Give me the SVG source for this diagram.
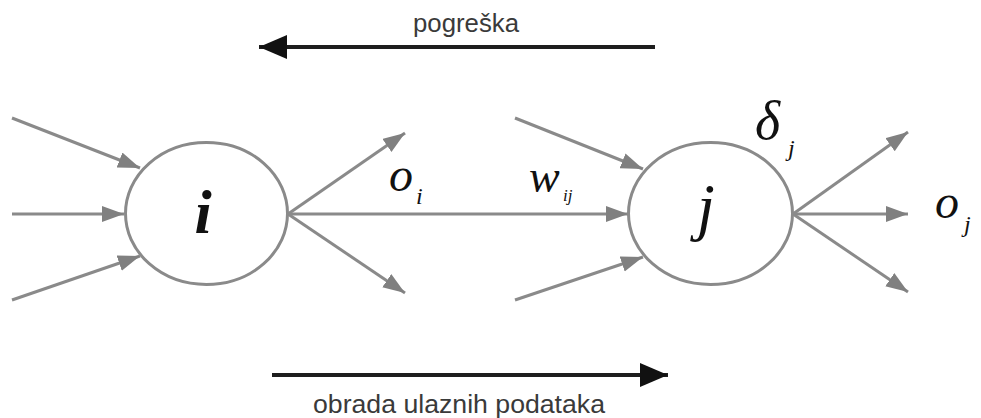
<svg xmlns="http://www.w3.org/2000/svg" width="981" height="418" viewBox="0 0 981 418">
<style>
.c{stroke:#8a8a8a;stroke-width:3;fill:none}
.node{fill:#fff;stroke:#8a8a8a;stroke-width:3}
.bk{stroke:#1e1e1e;stroke-width:4;fill:none}
.lab{font-family:"Liberation Sans",Arial,sans-serif;font-size:25px;fill:#3a3a3a}
.m{font-family:"Liberation Serif","Times New Roman",serif;font-style:italic;fill:#111}
</style>
<defs>
<marker id="g" markerUnits="userSpaceOnUse" markerWidth="24" markerHeight="18" refX="22" refY="8" orient="auto">
<path d="M0,0 L22,8 L0,16 z" fill="#808080"/>
</marker>
<marker id="b" markerUnits="userSpaceOnUse" markerWidth="30" markerHeight="26" refX="28" refY="12" orient="auto">
<path d="M0,0 L28,12 L0,24 z" fill="#111"/>
</marker>
</defs>
<g id="connectors">
<line class="c" x1="12" y1="118" x2="140" y2="168" marker-end="url(#g)"/>
<line class="c" x1="12" y1="214" x2="124" y2="214" marker-end="url(#g)"/>
<line class="c" x1="12" y1="300" x2="140" y2="256" marker-end="url(#g)"/>
<line class="c" x1="288" y1="214" x2="405" y2="133" marker-end="url(#g)"/>
<line class="c" x1="288" y1="214" x2="405" y2="293" marker-end="url(#g)"/>
<line class="c" x1="288" y1="214" x2="628" y2="214" marker-end="url(#g)"/>
<line class="c" x1="515" y1="118" x2="643" y2="169" marker-end="url(#g)"/>
<line class="c" x1="515" y1="300" x2="643" y2="257" marker-end="url(#g)"/>
<line class="c" x1="793" y1="214" x2="908" y2="132" marker-end="url(#g)"/>
<line class="c" x1="793" y1="214" x2="908" y2="214" marker-end="url(#g)"/>
<line class="c" x1="793" y1="214" x2="908" y2="292" marker-end="url(#g)"/>
<line class="bk" x1="655" y1="47" x2="259" y2="47" marker-end="url(#b)"/>
<line class="bk" x1="272" y1="375" x2="668" y2="375" marker-end="url(#b)"/>
</g>
<g id="node-i">
<ellipse class="node" cx="206.5" cy="213.5" rx="81" ry="71"/>
<text class="m" x="203" y="233" font-size="62" font-weight="bold" text-anchor="middle">i</text>
</g>
<g id="node-j">
<ellipse class="node" cx="710.5" cy="213.5" rx="82" ry="71"/>
<text class="m" x="706" y="228" font-size="64" text-anchor="middle">j</text>
</g>
<g id="labels">
<text class="lab" x="466" y="32" text-anchor="middle" textLength="106" lengthAdjust="spacingAndGlyphs">pogreška</text>
<text class="lab" x="459" y="413" text-anchor="middle" textLength="292" lengthAdjust="spacingAndGlyphs">obrada ulaznih podataka</text>
<text class="m" x="389" y="191" font-size="48">o</text>
<text class="m" x="416" y="204" font-size="24">i</text>
<text class="m" x="529" y="192" font-size="46">w</text>
<text class="m" x="563" y="201" font-size="17">ij</text>
<text class="m" x="755" y="139" font-size="54">δ</text>
<text class="m" x="788" y="156" font-size="24">j</text>
<text class="m" x="935" y="218" font-size="48">o</text>
<text class="m" x="964" y="232" font-size="24">j</text>
</g>
</svg>
